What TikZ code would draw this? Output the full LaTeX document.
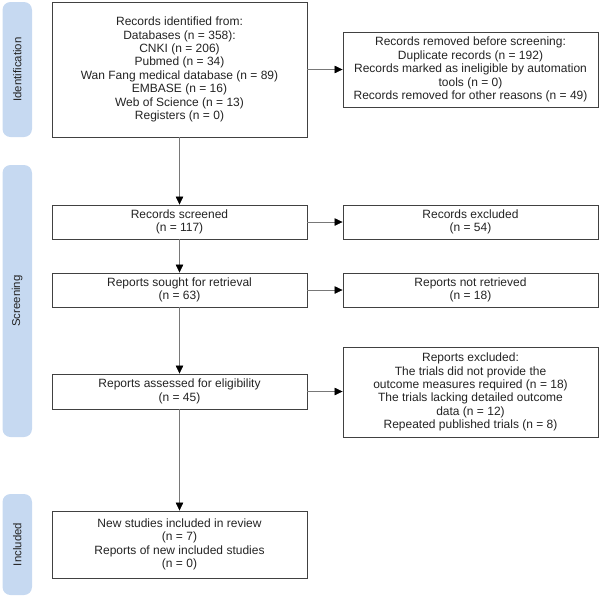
\documentclass[tikz,border=0pt]{standalone}
\usepackage{fontspec}
\setmainfont{Liberation Sans}
\usetikzlibrary{arrows.meta}
\definecolor{barblue}{RGB}{198,217,241}
\definecolor{boxline}{RGB}{65,65,65}
\definecolor{conn}{RGB}{120,120,120}
\definecolor{txt}{RGB}{35,35,35}
\tikzset{
  flowbox/.style={draw=boxline, line width=0.9pt, minimum width=255pt, inner sep=0pt, align=center, text=txt,
     font={\fontsize{12pt}{13.4pt}\selectfont}},
  phasebar/.style={fill=barblue, rounded corners=8pt, minimum width=29.5pt, inner sep=0pt, text=txt,
     font={\fontsize{11.4pt}{13pt}\selectfont}},
  conn/.style={draw=conn, line width=0.6pt, -{Triangle[length=8pt,width=7.5pt,color=black]}}
}
\begin{document}
\begin{tikzpicture}[x=1pt,y=-1pt]
\useasboundingbox (0,0) rectangle (600,598);
% phase bars
\node[phasebar, minimum height=135pt] (bid) at (17.25,69.5) {\rotatebox{90}{Identification}};
\node[phasebar, minimum height=272pt] (bsc) at (17.25,301) {\rotatebox{90}{Screening}};
\node[phasebar, minimum height=101pt] (bin) at (17.25,544.5) {\rotatebox{90}{Included}};
% boxes
\node[flowbox, minimum height=135pt] (ident) at (179.5,69.5) {Records identified from:\\Databases (n = 358):\\CNKI (n = 206)\\Pubmed (n = 34)\\Wan Fang medical database (n = 89)\\EMBASE (n = 16)\\Web of Science (n = 13)\\Registers (n = 0)};
\node[flowbox, minimum height=75pt] (removed) at (470.5,69.5) {Records removed before screening:\\Duplicate records (n = 192)\\Records marked as ineligible by automation\\tools (n = 0)\\Records removed for other reasons (n = 49)};
\node[flowbox, minimum height=34pt] (screened) at (179.5,222) {Records screened\\(n = 117)};
\node[flowbox, minimum height=34pt] (excluded) at (470.5,222) {Records excluded\\(n = 54)};
\node[flowbox, minimum height=34pt] (sought) at (179.5,290) {Reports sought for retrieval\\(n = 63)};
\node[flowbox, minimum height=34pt] (notret) at (470.5,290) {Reports not retrieved\\(n = 18)};
\node[flowbox, minimum height=35pt] (elig) at (179.5,391.5) {Reports assessed for eligibility\\(n = 45)};
\node[flowbox, minimum height=90pt] (repexcl) at (470.5,392) {Reports excluded:\\The trials did not provide the\\outcome measures required (n = 18)\\The trials lacking detailed outcome\\data (n = 12)\\Repeated published trials (n = 8)};
\node[flowbox, minimum height=67pt] (incl) at (179.5,544.5) {New studies included in review\\(n = 7)\\Reports of new included studies\\(n = 0)};
% connectors
\draw[conn] (ident) -- (screened);
\draw[conn] (screened) -- (sought);
\draw[conn] (sought) -- (elig);
\draw[conn] (elig) -- (incl);
\draw[conn] (ident) -- (removed);
\draw[conn] (screened) -- (excluded);
\draw[conn] (sought) -- (notret);
\draw[conn] (elig.east) -- (elig.east -| repexcl.west);
\end{tikzpicture}
\end{document}
